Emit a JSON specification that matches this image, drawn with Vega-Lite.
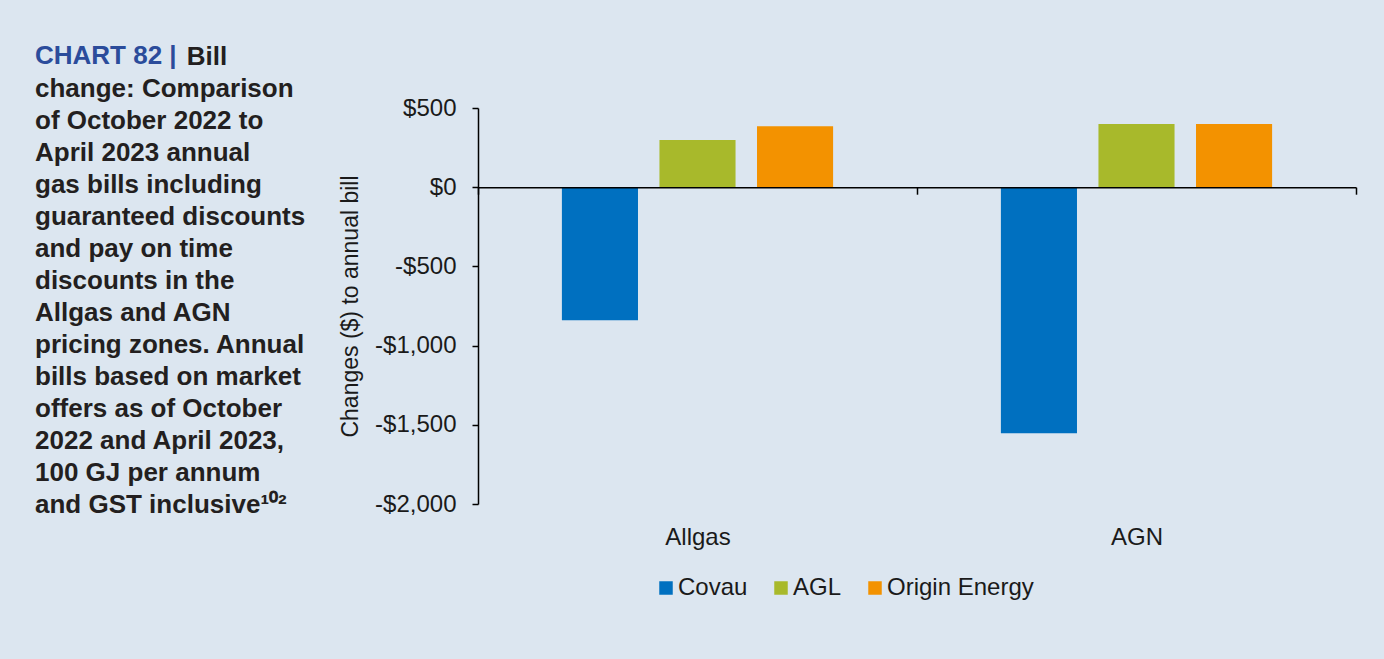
{
  "$schema": "https://vega.github.io/schema/vega-lite/v6.json",
  "width": 878,
  "height": 396,
  "autosize": {"type": "none"},
  "padding": {"left": 478, "top": 108, "right": 28, "bottom": 155},
  "background": "#dce6f0",
  "title": {
    "text": "CHART 82 |",
    "subtitle": [
      "\u200b\u00a0\u00a0\u00a0\u00a0\u00a0\u00a0\u00a0\u00a0\u00a0\u00a0\u00a0\u00a0\u00a0\u00a0\u00a0\u00a0\u00a0\u00a0\u00a0\u00a0\u00a0Bill",
      "change: Comparison",
      "of October 2022 to",
      "April 2023 annual",
      "gas bills including",
      "guaranteed discounts",
      "and pay on time",
      "discounts in the",
      "Allgas and AGN",
      "pricing zones. Annual",
      "bills based on market",
      "offers as of October",
      "2022 and April 2023,",
      "100 GJ per annum",
      "and GST inclusive¹⁰²"
    ],
    "orient": "top",
    "anchor": "start",
    "frame": "group",
    "align": "left",
    "dx": -443,
    "dy": 426,
    "font": "Liberation Sans",
    "fontSize": 26,
    "fontWeight": "bold",
    "color": "#2b4c9b",
    "subtitleFont": "Liberation Sans",
    "subtitleFontSize": 26,
    "subtitleFontWeight": "bold",
    "subtitleColor": "#231f20",
    "subtitleLineHeight": 32,
    "subtitlePadding": -25
  },
  "data": {
    "values": [
      {"zone": "Allgas", "company": "Covau", "value": -840},
      {"zone": "Allgas", "company": "AGL", "value": 298},
      {"zone": "Allgas", "company": "Origin Energy", "value": 384},
      {"zone": "AGN", "company": "Covau", "value": -1554},
      {"zone": "AGN", "company": "AGL", "value": 399},
      {"zone": "AGN", "company": "Origin Energy", "value": 399}
    ]
  },
  "mark": {"type": "bar"},
  "encoding": {
    "x": {
      "field": "zone",
      "type": "nominal",
      "sort": ["Allgas", "AGN"],
      "scale": {"paddingInner": 0, "paddingOuter": 0},
      "axis": {
        "title": null,
        "labelAngle": 0,
        "offset": -316.8,
        "tickBand": "extent",
        "tickSize": 7,
        "tickWidth": 1.5,
        "tickColor": "#000000",
        "domainColor": "#000000",
        "domainWidth": 1.5,
        "labelPadding": 331,
        "labelFont": "Liberation Sans",
        "labelFontSize": 24,
        "labelColor": "#1a1a1a",
        "zindex": 1
      }
    },
    "xOffset": {
      "field": "company",
      "type": "nominal",
      "sort": ["Covau", "AGL", "Origin Energy"],
      "scale": {"paddingInner": 0.22, "paddingOuter": 0.86}
    },
    "y": {
      "field": "value",
      "type": "quantitative",
      "scale": {"domain": [-2000, 500], "nice": false},
      "axis": {
        "title": "Changes ($) to annual bill",
        "values": [-2000, -1500, -1000, -500, 0, 500],
        "labelExpr": "datum.value < 0 ? '-$' + format(-datum.value, ',') : '$' + format(datum.value, ',')",
        "grid": false,
        "tickSize": 6,
        "tickWidth": 1.5,
        "tickColor": "#000000",
        "domainColor": "#000000",
        "domainWidth": 1.5,
        "labelPadding": 16,
        "labelFont": "Liberation Sans",
        "labelFontSize": 24,
        "labelColor": "#1a1a1a",
        "titleFont": "Liberation Sans",
        "titleFontSize": 23,
        "titleFontWeight": "normal",
        "titleColor": "#1a1a1a",
        "titlePadding": 12,
        "zindex": 1
      }
    },
    "color": {
      "field": "company",
      "type": "nominal",
      "scale": {
        "domain": ["Covau", "AGL", "Origin Energy"],
        "range": ["#0070c0", "#a8b92b", "#f39200"]
      },
      "legend": {
        "orient": "none",
        "legendX": 176,
        "legendY": 468,
        "direction": "horizontal",
        "title": null,
        "symbolType": "square",
        "symbolSize": 182,
        "symbolStrokeWidth": 0,
        "labelFont": "Liberation Sans",
        "labelFontSize": 24,
        "labelColor": "#1a1a1a",
        "labelOffset": 0,
        "columnPadding": 21
      }
    }
  },
  "config": {
    "view": {"stroke": null},
    "font": "Liberation Sans"
  }
}
